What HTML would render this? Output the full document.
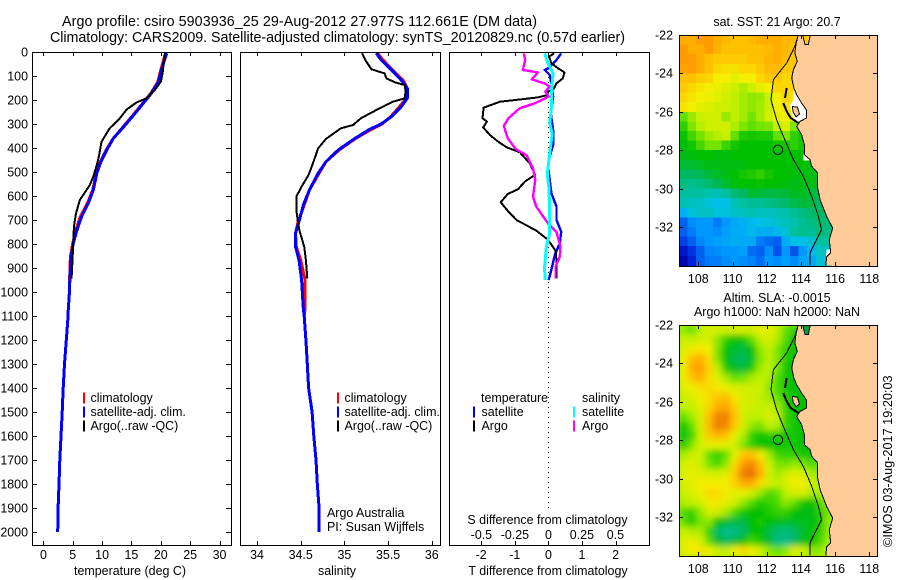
<!DOCTYPE html>
<html lang="en">
<head>
<meta charset="utf-8">
<title>Argo profile csiro 5903936_25</title>
<style>
html,body{margin:0;padding:0;background:#fff;}
svg{display:block;}
text{font-family:"Liberation Sans",sans-serif;font-size:12.45px;fill:#000;}
.title{font-size:14.3px;}
</style>
</head>
<body>
<svg id="chart" xmlns="http://www.w3.org/2000/svg" width="900" height="580" viewBox="0 0 900 580">
  <defs>
    <clipPath id="clip-map-sst"><rect x="679" y="35" width="198" height="231"/></clipPath>
    <clipPath id="clip-map-sla"><rect x="679" y="325" width="198" height="232"/></clipPath>
    <filter id="soften" x="-5%" y="-5%" width="110%" height="110%"><feGaussianBlur stdDeviation="3.2"/></filter>
  </defs>
  <rect x="0" y="0" width="900" height="580" fill="#fff"/>
  <text class="title" x="62" y="26" textLength="475" lengthAdjust="spacing">Argo profile: csiro 5903936_25 29-Aug-2012 27.977S 112.661E (DM data)</text>
  <text class="title" x="50" y="42" textLength="575" lengthAdjust="spacing">Climatology: CARS2009. Satellite-adjusted climatology: synTS_20120829.nc (0.57d earlier)</text>

  <g id="panel-temp"></g>
  <g id="panel-sal"></g>
  <g id="panel-diff"></g>
  <g id="map-sst"></g>
  <g id="map-sla"></g>

  <text x="130" y="575" text-anchor="middle">temperature (deg C)</text>
  <text x="337" y="575" text-anchor="middle">salinity</text>
  <text x="548" y="575" text-anchor="middle">T difference from climatology</text>
  <text x="547.5" y="524" text-anchor="middle">S difference from climatology</text>

  <text x="327" y="517">Argo Australia</text>
  <text x="327" y="531">PI: Susan Wijffels</text>

  <text x="777" y="26" text-anchor="middle">sat. SST: 21 Argo: 20.7</text>
  <text x="777" y="302" text-anchor="middle">Altim. SLA: -0.0015</text>
  <text x="777" y="316" text-anchor="middle">Argo h1000: NaN h2000: NaN</text>
  <text style="font-size:12.7px" transform="translate(892,547) rotate(-90)">©IMOS 03-Aug-2017 19:20:03</text>
</svg>
<script>
/* ---------- tick labels ---------- */
var depthTicks = [0,100,200,300,400,500,600,700,800,900,1000,1100,1200,1300,1400,1500,1600,1700,1800,1900,2000];
var tempTicks = [0,5,10,15,20,25,30];
var salTicks = [34,34.5,35,35.5,36];
var tDiffTicks = [-2,-1,0,1,2];
var sDiffTicks = [-0.5,-0.25,0,0.25,0.5];
var sDiffTickLabels = ['-0.5','-0.25','0','0.25','0.5'];
var lonTicks = [108,110,112,114,116,118];
var latTicks = [-22,-24,-26,-28,-30,-32];

/* ---------- temperature profiles ---------- */
var tempClimDepth = [5,75,124,172,214,262,314,360,408,457,505,575,630,686,742,797,853,922,1019,1068,1100,1200,1300,1400,1500,1600,1700,1800,1900,2000];
var tempClim = [20.8,20.0,19.5,18.3,16.9,15.3,13.5,11.9,10.7,9.7,9.0,8.4,7.5,6.3,5.5,5.0,4.6,4.5,4.4,4.25,4.2,3.9,3.6,3.37,3.2,3.0,2.8,2.65,2.5,2.43];
var tempSat = [21.0,20.1,19.6,18.4,17.0,15.4,13.6,11.9,10.8,9.8,9.1,8.5,7.65,6.5,5.7,5.1,4.7,4.55,4.4,4.25,4.2,3.9,3.6,3.37,3.2,3.0,2.8,2.65,2.5,2.43];
var tempArgoDepth = [5,89,124,158,193,210,239,283,318,374,429,471,519,554,617,672,728,797,943];
var tempArgo = [20.7,20.3,20.0,19.0,17.6,15.9,14.2,12.8,11.3,9.9,9.5,9.1,8.5,7.9,6.2,5.55,5.2,5.1,4.8];

/* ---------- salinity profiles ---------- */
var salClimDepth = [5,33,75,117,151,193,228,269,300,322,360,408,457,505,575,638,707,756,811,867,950,1068,1100,1200,1300,1400,1500,1600,1700,1800,1900,2000];
var salClim = [35.38,35.44,35.55,35.67,35.72,35.71,35.63,35.53,35.43,35.31,35.13,34.94,34.79,34.71,34.60,34.54,34.47,34.44,34.45,34.50,34.55,34.55,34.54,34.56,34.575,34.59,34.63,34.65,34.675,34.69,34.71,34.71];
var salSat = [35.365,35.42,35.54,35.65,35.72,35.72,35.65,35.54,35.42,35.29,35.12,34.93,34.79,34.70,34.60,34.53,34.48,34.44,34.44,34.48,34.51,34.53,34.54,34.56,34.575,34.59,34.63,34.65,34.675,34.69,34.71,34.71];
var salArgoDepth = [5,40,72,89,110,126,138,165,193,207,235,276,304,318,362,401,464,512,561,603,658,714,749,811,867,943];
var salArgo = [35.20,35.25,35.31,35.46,35.48,35.575,35.69,35.70,35.69,35.556,35.40,35.19,35.10,34.96,34.79,34.70,34.64,34.59,34.51,34.45,34.45,34.47,34.49,34.54,34.56,34.575];

/* ---------- difference profiles ---------- */
var dTArgoDepth = [6,19,47,68,85,110,131,151,165,179,189,197,207,232,276,290,314,346,374,397,418,464,512,540,571,592,626,665,700,744,783,828,867,943];
var dTArgo = [0.17,0.02,0.09,0.29,0.48,0.43,0.24,0.17,-0.01,-0.03,-0.31,-0.80,-1.44,-1.93,-1.96,-1.83,-1.94,-1.74,-1.49,-1.24,-0.85,-0.55,-0.40,-0.70,-0.90,-1.21,-1.42,-1.19,-0.95,-0.36,-0.01,0.21,0.24,0.24];
var dTSatDepth = [6,33,68,75,96,131,186,256,325,387,436,478,533,589,644,700,749,797,846,894,950];
var dTSat = [0.38,0.24,-0.01,-0.11,0.04,0.09,0.14,0.07,0.14,0.14,0.04,-0.01,0.04,0.09,0.24,0.24,0.38,0.34,0.19,0.11,0.01];
var dSArgoDepth = [6,33,75,85,114,131,144,165,186,214,235,276,308,360,406,429,485,533,603,644,714,749,811,853,894,943];
var dSArgo = [-0.183,-0.173,-0.19,-0.078,-0.123,-0.028,0.01,-0.023,0.003,-0.103,-0.216,-0.298,-0.333,-0.303,-0.241,-0.165,-0.115,-0.098,-0.115,-0.09,-0.003,0.06,0.09,0.085,0.053,0.053];
var dSSatDepth = [6,40,89,158,228,297,339,422,506,575,686,756,811,894,950];
var dSSat = [-0.028,-0.008,0.035,0.023,0.023,0.01,0.028,0.01,-0.008,0.005,0.01,0.01,-0.015,-0.028,-0.025];

/* ---------- map fields (colour-scale units, 0.5 degree rows from 22S, columns from 106.87E) ---------- */
var sstField = [
[11.5,11.5,12,12,11.5,11.2,11,11,11.2,11.5,11.5,11.5,11.2,11.2,11,11,11,11,11],
[12,11.5,11.5,12,11.3,11,11,11,11,11,11.2,11.5,11.2,11,11,11,11,11,11],
[12,12,11.5,11,10.8,10.8,10.8,10.8,11,11,11.3,11.5,11,10.8,10.8,10.8,10.8,10.8,10.8],
[11.8,12,11.5,11,10.5,10.3,10.3,10.5,10.5,10.8,11.2,11.2,10.8,10.8,10.8,10.8,10.8,10.8,10.8],
[11,11,10.7,10.5,10,10,9.7,10,10,10.5,10.8,10.8,10.5,10.5,10.5,10.5,10.5,10.5,10.5],
[10.8,10.5,10.2,10,9.8,9.5,9.2,8.8,9.3,9.7,10,10.5,10.5,10.5,10.5,10.5,10.5,10.5,10.5],
[10.5,10.2,10,9.8,9.6,9.3,9,8.7,8.5,8.6,9.2,10,10.5,10.3,10.3,10.3,10.3,10.3,10.3],
[10.2,10,9.7,9.5,9.3,9.2,9,8.7,8.5,8.7,9.2,10,10.2,10.3,10.3,10.3,10.3,10.3,10.3],
[8,8.6,9.1,9.3,9.3,8.6,9,8.7,8.2,8.7,9.3,9.8,10,9.5,9.5,9.5,9.5,9.5,9.5],
[7.5,8.3,8.9,9.3,9.3,9.3,8.8,8.3,8,8.2,8.3,9,9.5,8.3,7.5,7.5,7.5,7.5,7.5],
[7.1,7.7,8.2,8.7,8.9,9.1,8,7.3,7.2,7.3,7.3,8,8.3,7.5,7.2,7,7,7,7],
[6.9,7.2,7.7,8.2,8.2,7.6,7.2,7,7,7,7,7.2,7.2,7.5,7.2,7,7,7,7],
[6.8,6.9,7,7,6.9,6.9,7,7,7,7,7,7,7,7,7,7,7,7,7],
[6.5,6.5,6.6,6.8,6.8,6.8,6.8,6.9,7,7,7,7,7,7,7,6.8,6.8,6.5,6.5],
[6,6,6.1,6.4,6.6,6.8,7,7.2,7.3,7.5,7.2,7,7,6.9,6.9,6.8,6.8,6.5,6.5],
[5.5,5.3,5.4,5.8,6.1,6.5,6.9,7,7,7.1,7,7,6.9,6.8,6.8,6.8,6.6,6.3,6.3],
[5,5,5,4.8,4.7,5,5.7,6,6.5,6.4,6.3,6.3,6.4,6.6,6.6,6.4,6.2,6,5.5],
[4.7,4.6,4.5,4.2,4,4,4.7,5,5.2,5.2,5.4,5.6,5.8,6.2,6.4,6.3,6,5.6,5],
[3.6,4.2,4.5,4.5,4.2,4.2,4.5,4.6,4.7,4.6,4.6,4.7,4.8,5.2,5.5,5.8,6,5.5,4.8],
[2,2.8,3,3,2.5,3,3.4,3.6,3.8,4,4.2,4.4,4.6,4.8,5.2,5.5,5.8,5.6,5],
[2,2.5,3,3,2.8,3.2,3.5,3.5,3.8,3.6,3.5,3.8,4.3,5,5.3,5.2,5.6,5.4,5],
[1.5,2,2.7,3,3.2,3.3,3.5,3.4,3.4,2.5,2.2,2,3.5,4,4,4.4,5,5,4.5],
[0.7,1.3,2,2.7,2.8,3,3,3.2,2.2,2,2.8,1.8,3,1.8,3,3.8,4.5,4.5,4],
[0.2,1,2,2.5,2.5,2.8,3,2.8,2.6,2.2,3,2.8,3.2,2.8,3.3,3.4,4.2,4.5,4]
];
var slaField = [
[8.5,8,9,9.4,9.4,9.4,9.4,9.4,9.4,9.8,9.8,9,8,7.5,7.5,7.2,7.2,7.2,7.2],
[9.3,9,9.3,9.4,8.5,7.5,7,7.2,8,9,9.4,8.8,7.8,7.2,7,7,7,7,7],
[9.5,9.9,10.2,9.9,8.3,7,6.5,6.3,7,8.5,9,8.3,7.5,7,7,7,7,7,7],
[9.9,11,11.5,10.4,8.3,7,6.2,6,6.7,8.3,9,8.3,7.3,7,7,7,7,7,7],
[9.9,11.5,12,10.6,9,7.3,6.6,6.4,7.3,8.7,9,8.2,7.2,7,7,7,7,7,7],
[9.9,10.9,11.5,10.4,9.6,8.7,8,8.2,8.7,9,8.8,7.8,7.2,7,7,7,7,7,7],
[9.7,9.9,10.4,10.4,10.2,9.7,9.4,9.3,9.3,9.3,8.5,7.8,7.2,7,7,7,7,7,7],
[9.2,9.4,9.9,10.4,10.8,11,10.2,9.4,9.3,9,8.7,8,7.4,7,7,7,7,7,7],
[9,9.2,9.6,10.5,11.5,11.8,10.7,9.4,9.3,9,9.2,8.7,7.5,7,7,7,7,7,7],
[8,8.7,9.4,11,12.5,12.6,11,9.4,9,9,9.5,9,7.5,7.2,7,7,7,7,7],
[7,8,9.4,11.2,12.7,12.5,10.8,9.3,8.5,8.2,9,8.8,7.5,7.2,7,7,7,7,7],
[6.8,7.7,9.2,10.8,11.3,11,9.7,8.8,7.5,7.2,7.3,7.4,7.2,7.2,7,7,7,7,7],
[7.2,8.3,9.4,9.7,9.7,9.6,9.3,8.3,7.5,7,7,7,7.2,7.2,7,7,7.2,7.5,7.5],
[8.7,9.2,9.3,8,7.5,8,9.6,10.8,11,9.9,8.7,7.7,7.5,7.5,7.2,7.2,7.5,8.2,8.2],
[9.4,9.6,9.2,8.2,7.8,8.5,10.4,12,12.5,11,9.3,8.3,8.2,8.5,8.3,7.8,8,8.7,8.7],
[9.6,9.7,9.6,9.4,9.3,9.6,10.8,12.7,13,11.5,9.4,8.7,9.2,9.7,9.4,8.7,8.5,9,9],
[9.4,9.7,9.9,10,10,10,10.6,11.5,11.5,10.4,9.4,9,9.4,9.9,9.9,9.4,8.8,9,9],
[9.2,9.4,9.9,10.4,10.4,9.9,9.7,9.7,9.3,8.5,7.8,8,9,9.4,9.4,8.8,8.7,9,9],
[8.8,9,9.3,9.9,10.2,9.7,9.3,8.5,7.8,7.3,7.5,7.8,8.5,8,7.2,7,7.8,8.7,9],
[7.8,7.5,8.5,9.3,9.3,8.7,7.8,7.2,7,7,7.3,7.5,7.5,7,6.8,6.8,7.4,8.3,9],
[8,7.3,8.2,8.5,7,6.5,6.3,6.3,7,7.2,7,6.8,6.7,6.6,6.7,6.8,7.3,8.5,9],
[9.2,8.8,8.8,7.5,6,5.3,5.4,6,7,7,6.3,5.7,5.5,6,6.6,6.9,7.5,8.5,9],
[9.6,9.7,9.4,8,6.5,6,6.3,7,7.7,7.2,6.5,5.6,5.3,6,6.7,7,7.7,8.7,9],
[9.7,10,10.2,9.9,9.2,9,9.9,10.4,10,9.3,8.5,8,8.5,9.6,9.3,8.5,8.5,9,9]
];
var colourStops = ['#0000a0','#0020d8','#0060f0','#0098ff','#00c0e8','#00c0a0','#00b860','#00c000','#60e000','#c0f000','#f4ee00','#ffc000','#ff9c00','#e87000'];

/* ---------- geography ---------- */
var coastLon = [113.85,113.71,113.65,113.79,113.56,113.46,113.59,113.75,114.04,114.34,114.34,113.95,113.75,114.04,114.2,114.2,114.53,114.63,114.98,114.96,115.12,115.5,115.86,115.66,115.74,115.5,115.47];
var coastLat = [-22,-22.5,-22.94,-23.37,-23.8,-24.24,-24.76,-25.11,-25.54,-25.92,-26.32,-26.5,-26.76,-27.19,-27.71,-28.23,-28.49,-28.84,-29.19,-29.88,-30.58,-31.44,-32.05,-32.66,-33.35,-33.56,-34];
var isobathLon = [113.85,113.65,113.17,112.39,112.25,112.58,112.97,113.56,114.14,114.63,115.02,115.21,114.82,114.53,114.53];
var isobathLat = [-22,-22.59,-23.46,-24.33,-25.37,-26.41,-27.28,-28.49,-29.36,-30.4,-31.44,-32.14,-32.83,-33.35,-34];
var peninsulaLon = [113.5,113.8,113.92,113.72,113.55];
var peninsulaLat = [-25.72,-25.76,-26.12,-26.26,-26.02];
var bayLon = [113.56,113.75,114.04,114.34,114.34,113.95,113.75,113.46,113.36,113.56];
var bayLat = [-24.85,-25.11,-25.54,-25.92,-26.32,-26.5,-26.58,-26.15,-25.63,-25.37];
var gapLon = [114.14,114.49,114.49,114.14];
var gapLat = [-28.23,-28.23,-28.53,-28.53];
var southGapLon = [115.5,115.74,115.66,115.47];
var southGapLat = [-33.18,-33.18,-33.53,-33.56];
var capeLon = [114.1,114.24,114.43,114.55];
var capeLat = [-22,-22.5,-22.5,-22];
var islandLon = [112.97,113.17,113.4,113.85];
var islandLat = [-25.54,-25.98,-26.32,-26.58];
var islandNorthLon = [113.17,113.07];
var islandNorthLat = [-24.76,-25.28];
var floatLon = 112.661;
var floatLat = -27.977;

/* ---------- axis functions ---------- */
var NS = 'http://www.w3.org/2000/svg';
function yDepth(d){ return 52 + d * 0.24; }
function xTemp(t){ return 43.4 + t * 5.87; }
function xSal(s){ return 257 + (s - 34) * 87.4; }
function xTDiff(t){ return 548.4 + t * 33.6; }
function xSDiff(s){ return 548.4 + s * 134; }
function xLon(lon){ return 698.3 + (lon - 108) * 17.1; }
function yLat(lat, top){ return top + (-22 - lat) * 19.2; }

function make(tag, attrs, parent){
  var e = document.createElementNS(NS, tag);
  for (var k in attrs) e.setAttribute(k, attrs[k]);
  parent.appendChild(e);
  return e;
}
function pointsFrom(xs, ys, fx, fy){
  var out = [];
  for (var i = 0; i < xs.length; i++) out.push(fx(xs[i]).toFixed(1) + ',' + fy(ys[i]).toFixed(1));
  return out.join(' ');
}
function profile(parent, values, depths, fx, colour, width, name){
  var line = make('polyline', {points: pointsFrom(values, depths, fx, yDepth), fill: 'none', stroke: colour, 'stroke-width': width, 'stroke-linejoin': 'round', 'shape-rendering': 'crispEdges'}, parent);
  
  
}
function frame(parent, x, y, w, h, name){
  var r = make('rect', {x: x + 0.5, y: y + 0.5, width: w, height: h, fill: 'none', stroke: '#000', 'stroke-width': 1, 'shape-rendering': 'crispEdges'}, parent);
  
  
}
function tick(parent, x1, y1, x2, y2){
  var l = make('line', {x1: x1, y1: y1, x2: x2, y2: y2, stroke: '#000', 'stroke-width': 1, 'shape-rendering': 'crispEdges'}, parent);
  
  
}
function label(parent, x, y, str, anchor){
  var t = make('text', {x: x, y: y, 'text-anchor': anchor || 'middle'}, parent);
  t.textContent = str;
  
  
}
function legendEntry(parent, barX, textX, cy, colour, str){
  var bar = make('rect', {x: barX, y: cy - 5.5, width: 2, height: 11, fill: colour, 'shape-rendering': 'crispEdges'}, parent);
  
  
  var t = make('text', {x: textX, y: cy + 4}, parent);
  t.textContent = str;
  
  
}
function xTicks(parent, values, fx, top, bottom){
  values.forEach(function(v){
    var x = Math.round(fx(v)) + 0.5;
    tick(parent, x, top, x, top + 4);
    tick(parent, x, bottom, x, bottom - 4);
  });
}

/* ---------- temperature panel ---------- */
var pTemp = document.getElementById('panel-temp');
profile(pTemp, tempClim, tempClimDepth, xTemp, '#ff0000', 3, 'temperature-climatology-line');
profile(pTemp, tempSat, tempClimDepth, xTemp, '#0000ff', 3, 'temperature-satellite-line');
profile(pTemp, tempArgo, tempArgoDepth, xTemp, '#000000', 2, 'temperature-argo-line');
frame(pTemp, 32, 52, 199, 493, 'temperature-panel-frame');
xTicks(pTemp, tempTicks, xTemp, 52, 545);
tempTicks.forEach(function(v){ label(pTemp, xTemp(v), 559, String(v)); });
depthTicks.forEach(function(d){
  var y = Math.round(yDepth(d)) + 0.5;
  tick(pTemp, 32, y, 37, y);
  tick(pTemp, 231, y, 226, y);
  label(pTemp, 28, y + 4, String(d), 'end');
});
legendEntry(pTemp, 83, 90.5, 398, '#ff0000', 'climatology');
legendEntry(pTemp, 83, 90.5, 412, '#0000ff', 'satellite-adj. clim.');
legendEntry(pTemp, 83, 90.5, 426, '#000000', 'Argo(..raw -QC)');

/* ---------- salinity panel ---------- */
var pSal = document.getElementById('panel-sal');
profile(pSal, salClim, salClimDepth, xSal, '#ff0000', 3, 'salinity-climatology-line');
profile(pSal, salSat, salClimDepth, xSal, '#0000ff', 3, 'salinity-satellite-line');
profile(pSal, salArgo, salArgoDepth, xSal, '#000000', 2, 'salinity-argo-line');
frame(pSal, 240, 52, 200, 493, 'salinity-panel-frame');
xTicks(pSal, salTicks, xSal, 52, 545);
salTicks.forEach(function(v){ label(pSal, xSal(v), 559, String(v)); });
legendEntry(pSal, 337, 344.5, 398, '#ff0000', 'climatology');
legendEntry(pSal, 337, 344.5, 412, '#0000ff', 'satellite-adj. clim.');
legendEntry(pSal, 337, 344.5, 426, '#000000', 'Argo(..raw -QC)');

/* ---------- difference panel ---------- */
var pDiff = document.getElementById('panel-diff');
var zeroLine = make('line', {x1: 548.5, y1: 52, x2: 548.5, y2: 512, stroke: '#000', 'stroke-width': 1, 'stroke-dasharray': '1 4', 'shape-rendering': 'crispEdges'}, pDiff);


profile(pDiff, dTSat, dTSatDepth, xTDiff, '#0000ff', 2.4, 't-diff-satellite-line');
profile(pDiff, dTArgo, dTArgoDepth, xTDiff, '#000000', 2, 't-diff-argo-line');
profile(pDiff, dSArgo, dSArgoDepth, xSDiff, '#ff00ff', 2.4, 's-diff-argo-line');
profile(pDiff, dSSat, dSSatDepth, xSDiff, '#00ffff', 3, 's-diff-satellite-line');
frame(pDiff, 449, 52, 200, 493, 'difference-panel-frame');
xTicks(pDiff, tDiffTicks, xTDiff, 52, 545);
tDiffTicks.forEach(function(v){ label(pDiff, xTDiff(v), 559, String(v)); });
sDiffTicks.forEach(function(v, i){ label(pDiff, xSDiff(v), 539, sDiffTickLabels[i]); });
var legendHeadT = make('text', {x: 481, y: 402}, pDiff);
legendHeadT.textContent = 'temperature';


var legendHeadS = make('text', {x: 582, y: 402}, pDiff);
legendHeadS.textContent = 'salinity';


legendEntry(pDiff, 473, 481.5, 412, '#0000ff', 'satellite');
legendEntry(pDiff, 473, 481.5, 426, '#000000', 'Argo');
legendEntry(pDiff, 573, 582, 412, '#00ffff', 'satellite');
legendEntry(pDiff, 573, 582, 426, '#ff00ff', 'Argo');

/* ---------- maps ---------- */
function fieldColour(v){
  var lo = Math.max(0, Math.min(colourStops.length - 2, Math.floor(v)));
  var f = Math.max(0, Math.min(1, v - lo));
  var a = colourStops[lo], b = colourStops[lo + 1], out = [];
  for (var i = 1; i < 7; i += 2) {
    var ca = parseInt(a.substr(i, 2), 16), cb = parseInt(b.substr(i, 2), 16);
    out.push(Math.round(ca + (cb - ca) * f));
  }
  return 'rgb(' + out.join(',') + ')';
}
function polyFill(parent, lons, lats, top, fill, stroke, name){
  var p = make('polygon', {points: pointsFrom(lons, lats, xLon, function(v){ return yLat(v, top); }), fill: fill, stroke: stroke, 'stroke-width': 1, 'shape-rendering': 'crispEdges'}, parent);
  
  
}
function polyLine(parent, lons, lats, top, width, name){
  var p = make('polyline', {points: pointsFrom(lons, lats, xLon, function(v){ return yLat(v, top); }), fill: 'none', stroke: '#000', 'stroke-width': width, 'shape-rendering': 'crispEdges'}, parent);
  
  
}
function drawMap(groupId, field, top, clipId, soften, baseColour, capeColour){
  var g = document.getElementById(groupId);
  var clip = make('g', {'clip-path': 'url(#' + clipId + ')'}, g);
  
  
  var base = make('rect', {x: 679, y: top, width: 198, height: 232, fill: baseColour}, clip);
  
  
  var cells = make('g', soften ? {filter: 'url(#soften)'} : {'shape-rendering': 'crispEdges'}, clip);
  
  
  field.forEach(function(row, r){
    row.forEach(function(v, c){
      var lon = 106.87 + c * 0.5;
      var lat = -22 - r * 0.5;
      var x = xLon(lon), y = yLat(lat, top);
      var cell = make('rect', {x: x.toFixed(1), y: y.toFixed(1), width: (xLon(lon + 0.5) - x + 0.6).toFixed(1), height: (yLat(lat - 0.5, top) - y + 0.6).toFixed(1), fill: fieldColour(v)}, cells);
      
      
    });
  });
  if (groupId === 'map-sst') {
    polyFill(clip, bayLon, bayLat, top, '#ffffff', 'none', 'shark-bay-no-data');
    polyFill(clip, gapLon, gapLat, top, '#ffffff', 'none', 'coastal-no-data');
    polyFill(clip, southGapLon, southGapLat, top, '#ffffff', 'none', 'south-coast-no-data');
  }
  var landLon = coastLon.concat([118.6, 118.6]);
  var landLat = coastLat.concat([-34.2, -21.8]);
  polyFill(clip, landLon, landLat, top, '#ffcc99', 'none', 'land');
  polyLine(clip, coastLon, coastLat, top, 1, 'coastline');
  polyFill(clip, capeLon, capeLat, top, capeColour, '#000', 'north-west-cape-gulf');
  polyFill(clip, peninsulaLon, peninsulaLat, top, '#ffcc99', '#000', 'peninsula');
  polyLine(clip, isobathLon, isobathLat, top, 1, 'depth-contour');
  polyLine(clip, islandLon, islandLat, top, 2, 'dirk-hartog-island');
  polyLine(clip, islandNorthLon, islandNorthLat, top, 2, 'bernier-island');
  var marker = make('circle', {cx: xLon(floatLon).toFixed(1), cy: yLat(floatLat, top).toFixed(1), r: 4.7, fill: 'none', stroke: '#000', 'stroke-width': 1}, clip);
  
  
  var bottom = top + 231;
  frame(g, 679, top, 198, 231, 'map-frame');
  lonTicks.forEach(function(v){
    var x = Math.round(xLon(v)) + 0.5;
    tick(g, x, top, x, top + 4);
    tick(g, x, bottom, x, bottom - 4);
    label(g, xLon(v), bottom + 17, String(v));
  });
  latTicks.forEach(function(v){
    var y = Math.round(yLat(v, top)) + 0.5;
    tick(g, 679, y, 683, y);
    tick(g, 877, y, 873, y);
    label(g, 673, y + 4, String(v), 'end');
  });
}
drawMap('map-sst', sstField, 35, 'clip-map-sst', false, '#00c000', '#ffc800');
drawMap('map-sla', slaField, 325, 'clip-map-sla', true, '#a8ec00', '#00a040');
</script>
</body>
</html>
